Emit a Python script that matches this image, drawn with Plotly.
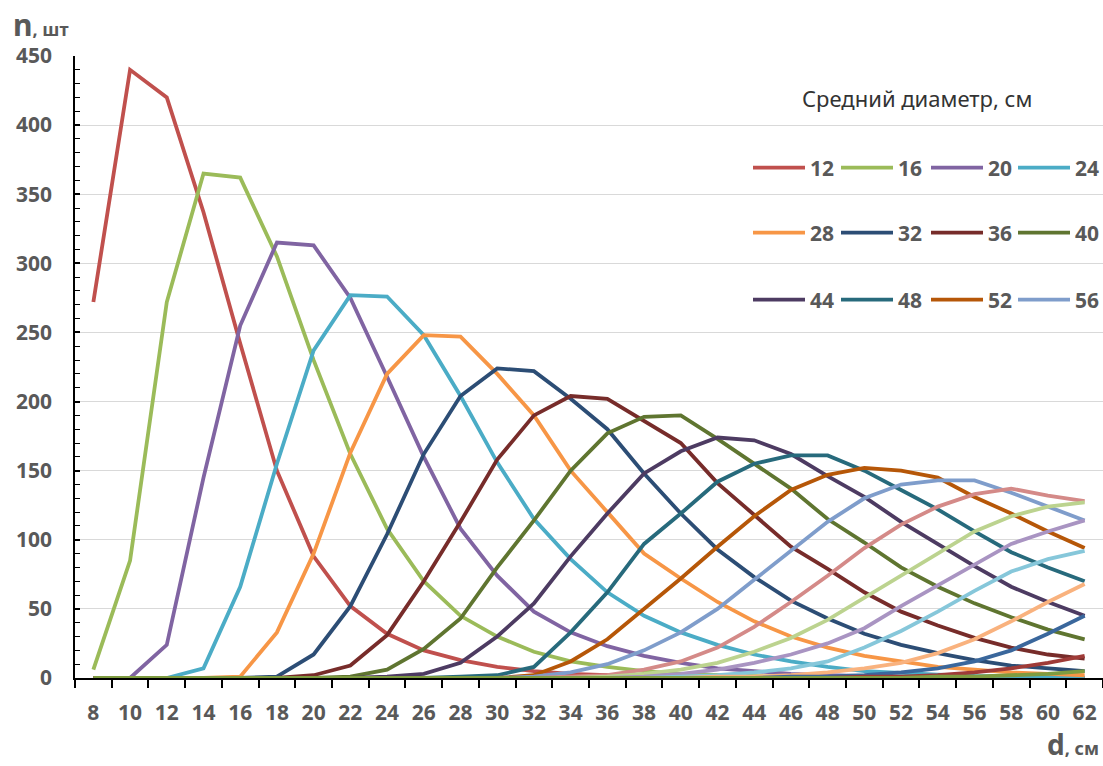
import plotly.graph_objects as go

# ---------------- data ----------------
d_values = [8, 10, 12, 14, 16, 18, 20, 22, 24, 26, 28, 30, 32, 34,
            36, 38, 40, 42, 44, 46, 48, 50, 52, 54, 56, 58, 60, 62]

n_12 = [272, 440, 420, 337, 242, 150, 88, 52, 32, 20, 13, 8, 5, 3, 2, 1, 1, 0.5, 0.3, 0.2, 0.1, 0, 0, 0, 0, 0, 0, 0]
n_16 = [6, 85, 272, 365, 362, 305, 230, 162, 108, 70, 45, 30, 19, 12, 8, 5, 3, 2, 1, 0.6, 0.4, 0.2, 0.1, 0, 0, 0, 0, 0]
n_20 = [0, 0, 24, 145, 255, 315, 313, 275, 218, 160, 108, 74, 48, 33, 23, 16, 11, 7, 5, 3, 2, 1.2, 0.8, 0.5, 0.3, 0.2, 0.1, 0]
n_24 = [0, 0, 0, 7, 66, 155, 237, 277, 276, 248, 204, 156, 115, 86, 62, 45, 33, 24, 17, 12, 8, 5, 3.5, 2.5, 1.5, 1, 0.6, 0.4]
n_28 = [0, 0, 0, 0, 1, 33, 90, 163, 220, 248, 247, 220, 190, 150, 120, 90, 72, 55, 41, 30, 22, 16, 12, 8, 6, 4, 3, 2]
n_32 = [0, 0, 0, 0, 0, 1, 17, 52, 104, 162, 204, 224, 222, 202, 180, 148, 119, 93, 73, 56, 43, 32, 24, 18, 13, 9, 7, 5]
n_36 = [0, 0, 0, 0, 0, 0, 2, 9, 31, 70, 113, 158, 190, 204, 202, 186, 170, 141, 118, 95, 79, 62, 48, 38, 29, 22, 17, 14]
n_40 = [0, 0, 0, 0, 0, 0, 0, 1, 6, 21, 43, 80, 114, 150, 177, 189, 190, 173, 155, 137, 115, 98, 80, 66, 54, 44, 35, 28]
n_44 = [0, 0, 0, 0, 0, 0, 0, 0, 1, 3, 11, 30, 54, 88, 119, 148, 164, 174, 172, 162, 146, 131, 113, 97, 81, 66, 55, 45]
n_48 = [0, 0, 0, 0, 0, 0, 0, 0, 0, 0, 1, 2, 8, 33, 62, 97, 119, 142, 155, 161, 161, 150, 136, 122, 106, 91, 80, 70]
n_52 = [0, 0, 0, 0, 0, 0, 0, 0, 0, 0, 0, 0, 2, 12, 28, 50, 72, 95, 117, 136, 147, 152, 150, 145, 131, 119, 106, 94]
n_56 = [0, 0, 0, 0, 0, 0, 0, 0, 0, 0, 0, 0, 1, 4, 10, 20, 33, 50, 71, 92, 113, 130, 140, 143, 143, 134, 124, 114]
n_60 = [0, 0, 0, 0, 0, 0, 0, 0, 0, 0, 0, 0, 0, 1, 2, 6, 12, 22, 37, 55, 74, 94, 111, 124, 133, 137, 132, 128]
n_64 = [0, 0, 0, 0, 0, 0, 0, 0, 0, 0, 0, 0, 0, 0, 1, 3, 6, 11, 19, 29, 42, 58, 74, 90, 106, 117, 124, 127]
n_68 = [0, 0, 0, 0, 0, 0, 0, 0, 0, 0, 0, 0, 0, 0, 0, 1, 3, 6, 11, 17, 25, 36, 52, 67, 82, 97, 106, 114]
n_72 = [0, 0, 0, 0, 0, 0, 0, 0, 0, 0, 0, 0, 0, 0, 0, 0, 1, 2, 4, 7, 12, 22, 34, 48, 63, 77, 86, 92]
n_76 = [0, 0, 0, 0, 0, 0, 0, 0, 0, 0, 0, 0, 0, 0, 0, 0, 0, 1, 1, 2, 4, 7, 11, 18, 28, 41, 55, 68]
n_80 = [0, 0, 0, 0, 0, 0, 0, 0, 0, 0, 0, 0, 0, 0, 0, 0, 0, 0, 0, 1, 1, 2, 4, 7, 12, 20, 32, 45]
n_84 = [0, 0, 0, 0, 0, 0, 0, 0, 0, 0, 0, 0, 0, 0, 0, 0, 0, 0, 0, 0, 0, 1, 1, 2, 4, 7, 11, 16]
n_88 = [0, 0, 0, 0, 0, 0, 0, 0, 0, 0, 0, 0, 0, 0, 0, 0, 0, 0, 0, 0, 0, 0, 0, 1, 1, 2, 3, 5]

series_names = ["12", "16", "20", "24", "28", "32", "36", "40", "44", "48", "52", "56",
                "60", "64", "68", "72", "76", "80", "84", "88"]
series_values = [n_12, n_16, n_20, n_24, n_28, n_32, n_36, n_40, n_44, n_48, n_52, n_56,
                 n_60, n_64, n_68, n_72, n_76, n_80, n_84, n_88]

y_tick_values = [0, 50, 100, 150, 200, 250, 300, 350, 400, 450]

# ---------------- styles ----------------
series_colors = ["#C0504D", "#9BBB59", "#8064A2", "#4BACC6", "#F79646",
                 "#2C4D75", "#772C2A", "#5F7530", "#4D3B62", "#276A7C", "#B65708",
                 "#7F9DCB", "#D48A88", "#BCD38F", "#A994C2", "#86C7DA", "#F9B27E",
                 "#3A679C", "#9F3B38", "#7E9C40"]

W, H = 1103, 766
ML, MR, MT, MB = 75, 0, 56, 88
PW, PH = W - ML - MR, H - MT - MB


def px_x(px):
    return (px - ML) / PW


def px_y(py):
    return (H - MB - py) / PH


# legend grid (pixel positions of line starts / row centres)
legend_cols_px = [755, 843, 933, 1020]
legend_rows_px = [168, 233, 300]

gray = "#595959"
font_family = "Noto Sans, Open Sans, sans-serif"
tick_font = dict(family=font_family, size=21, color=gray, weight="bold")

fig = go.Figure()
legend_layouts = {}
for i, (name, vals) in enumerate(zip(series_names, series_values)):
    show = i < 12
    key = None
    if show:
        key = "legend" if i == 0 else f"legend{i + 1}"
        legend_layouts[key] = dict(
            orientation="h", xanchor="left", yanchor="middle",
            x=px_x(legend_cols_px[i % 4] - 7), y=px_y(legend_rows_px[i // 4]),
            font=tick_font, bgcolor="rgba(0,0,0,0)", borderwidth=0,
            itemwidth=52, traceorder="normal",
        )
    fig.add_trace(go.Scatter(
        x=d_values, y=vals, mode="lines", name=name,
        line=dict(color=series_colors[i], width=3.8),
        showlegend=show,
        legend=key,
        hoverinfo="x+y+name",
    ))

fig.update_layout(
    width=W, height=H,
    margin=dict(l=ML, r=MR, t=MT, b=MB, pad=0, autoexpand=False),
    paper_bgcolor="white", plot_bgcolor="white",
    showlegend=True,
    xaxis=dict(
        range=[7, 63],
        tickmode="array", tickvals=d_values, ticktext=[str(v) for v in d_values],
        ticks="", ticklen=0,
        showline=True, linecolor="black", linewidth=2,
        showgrid=False, zeroline=False,
        tickfont=tick_font, ticklabelstandoff=15,
        minor=dict(tickmode="linear", tick0=7, dtick=2, ticks="outside",
                   ticklen=8, tickwidth=1.5, tickcolor="black", showgrid=False),
    ),
    yaxis=dict(
        range=[0, 450],
        tickmode="array", tickvals=y_tick_values,
        ticks="inside", ticklen=5, tickwidth=1.5, tickcolor="black",
        showline=True, linecolor="black", linewidth=1.5,
        showgrid=True, gridcolor="#D9D9D9", gridwidth=1,
        zeroline=False,
        tickfont=tick_font, ticklabelstandoff=17,
        minor=dict(tickmode="linear", tick0=0, dtick=10, ticks="inside",
                   ticklen=5, tickwidth=1, tickcolor="black", showgrid=False),
    ),
    shapes=[dict(type="rect", xref="paper", yref="y", x0=px_x(747), x1=1.0,
                 y0=246, y1=254, fillcolor="white", line=dict(width=0),
                 layer="between")],
    annotations=[
        dict(text="Средний диаметр, см", xref="paper", yref="paper",
             x=px_x(917), y=px_y(98), xanchor="center", yanchor="middle",
             showarrow=False,
             font=dict(family=font_family, size=22, color="#333333")),
        dict(text="<b>n</b><span style='font-size:18px'><b>, шт</b></span>",
             xref="paper", yref="paper", x=px_x(11), y=px_y(24),
             xanchor="left", yanchor="middle", showarrow=False,
             font=dict(family=font_family, size=30, color=gray)),
        dict(text="<b>d</b><span style='font-size:18px'><b>, см</b></span>",
             xref="paper", yref="paper", x=px_x(1101), y=px_y(765),
             xanchor="right", yanchor="bottom", showarrow=False,
             font=dict(family=font_family, size=28, color=gray)),
    ],
    **legend_layouts,
)

fig.write_html(
    "out.html",
    config={"displayModeBar": False},
    post_script="document.body.style.margin='0';document.body.style.overflow='hidden';",
)
